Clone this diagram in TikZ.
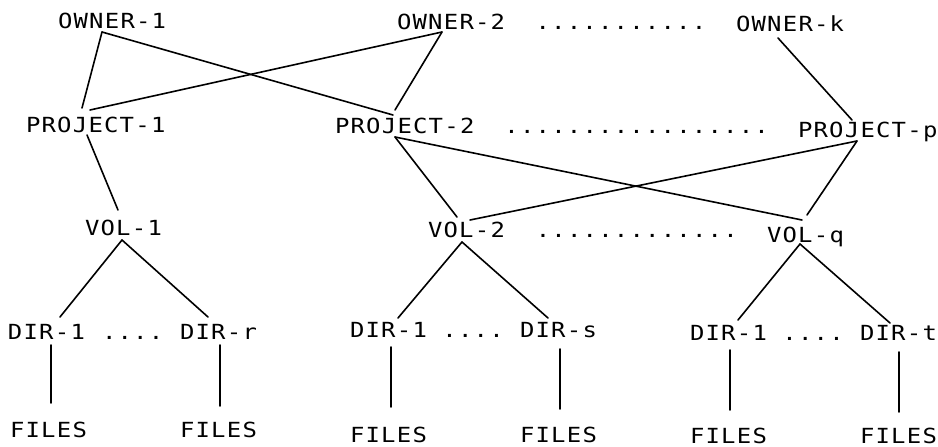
\documentclass[tikz,border=0pt]{standalone}
\usepackage{fontspec}
\newfontfamily\plotfont{DejaVu Sans Mono}[FakeStretch=1.15,LetterSpace=5.9]
\usetikzlibrary{calc}

\begin{document}
\begin{tikzpicture}[x=1pt,y=-1pt,
  lbl/.style={anchor=base west,inner sep=0pt,outer sep=0pt,
              font=\plotfont\fontsize{20.8pt}{24pt}\selectfont},
  link/.style={line width=1.6pt,line cap=round}]
\useasboundingbox (0,0) rectangle (938,447);

% owners
\node[lbl] (o1) at (58,28) {OWNER-1};
\node[lbl] (o2) at (397,29) {OWNER-2};
\node[lbl] (odots) at (535.6,29) {...........};
\node[lbl] (ok) at (736,31) {OWNER-k};

% projects
\node[lbl] (p1) at (26,132) {PROJECT-1};
\node[lbl] (p2) at (335,133) {PROJECT-2};
\node[lbl] (pdots) at (504.4,133) {.................};
\node[lbl] (pp) at (798,137) {PROJECT-p};

% volumes
\node[lbl] (v1) at (85,235) {VOL-1};
\node[lbl] (v2) at (428,237) {VOL-2};
\node[lbl] (vdots) at (535.8,237) {.............};
\node[lbl] (vq) at (767,242) {VOL-q};

% directories
\node[lbl] (d11) at (8,339) {DIR-1};
\node[lbl] (dd1) at (102,339) {....};
\node[lbl] (d1r) at (180,339) {DIR-r};
\node[lbl] (d21) at (350,337) {DIR-1};
\node[lbl] (dd2) at (442.4,337) {....};
\node[lbl] (d2s) at (520,337) {DIR-s};
\node[lbl] (d31) at (690,340) {DIR-1};
\node[lbl] (dd3) at (782.4,340) {....};
\node[lbl] (d3t) at (860,340) {DIR-t};

% files
\node[lbl] (f1) at (10,437) {FILES};
\node[lbl] (f2) at (180,437) {FILES};
\node[lbl] (f3) at (350,442) {FILES};
\node[lbl] (f4) at (520,442) {FILES};
\node[lbl] (f5) at (690,443) {FILES};
\node[lbl] (f6) at (860,443) {FILES};

% owner -> project
\draw[link] ($(o1.base west)+(44,4)$) -- ($(p1.base west)+(56,-24)$);
\draw[link] ($(o1.base west)+(44,4)$) -- ($(p2.base west)+(58,-18)$);
\draw[link] ($(o2.base west)+(45,3)$) -- ($(p1.base west)+(64,-22)$);
\draw[link] ($(o2.base west)+(45,3)$) -- ($(p2.base west)+(60,-23)$);
\draw[link] ($(ok.base west)+(42,7)$) -- ($(pp.base west)+(54,-17)$);

% project -> volume
\draw[link] ($(p1.base west)+(61,3)$) -- ($(v1.base west)+(33,-25)$);
\draw[link] ($(p2.base west)+(60,4)$) -- ($(v2.base west)+(29,-20)$);
\draw[link] ($(p2.base west)+(60,4)$) -- ($(vq.base west)+(35,-22)$);
\draw[link] ($(pp.base west)+(59,4)$) -- ($(v2.base west)+(42,-17)$);
\draw[link] ($(pp.base west)+(59,4)$) -- ($(vq.base west)+(40,-27)$);

% volume -> directory
\draw[link] ($(v1.base west)+(37,5)$) -- ($(d11.base west)+(52,-22)$);
\draw[link] ($(v1.base west)+(37,5)$) -- ($(d1r.base west)+(28,-22)$);
\draw[link] ($(v2.base west)+(34,5)$) -- ($(d21.base west)+(48,-19)$);
\draw[link] ($(v2.base west)+(34,5)$) -- ($(d2s.base west)+(28,-19)$);
\draw[link] ($(vq.base west)+(33,2)$) -- ($(d31.base west)+(48,-20)$);
\draw[link] ($(vq.base west)+(33,2)$) -- ($(d3t.base west)+(30,-17)$);

% directory -> files
\draw[link] ($(d11.base west)+(43,6)$) -- ($(f1.base west)+(41,-34)$);
\draw[link] ($(d1r.base west)+(40,6)$) -- ($(f2.base west)+(40,-31)$);
\draw[link] ($(d21.base west)+(41,10)$) -- ($(f3.base west)+(41,-35)$);
\draw[link] ($(d2s.base west)+(40,12)$) -- ($(f4.base west)+(40,-33)$);
\draw[link] ($(d31.base west)+(40,10)$) -- ($(f5.base west)+(40,-33)$);
\draw[link] ($(d3t.base west)+(39,12)$) -- ($(f6.base west)+(39,-31)$);
\end{tikzpicture}
\end{document}
